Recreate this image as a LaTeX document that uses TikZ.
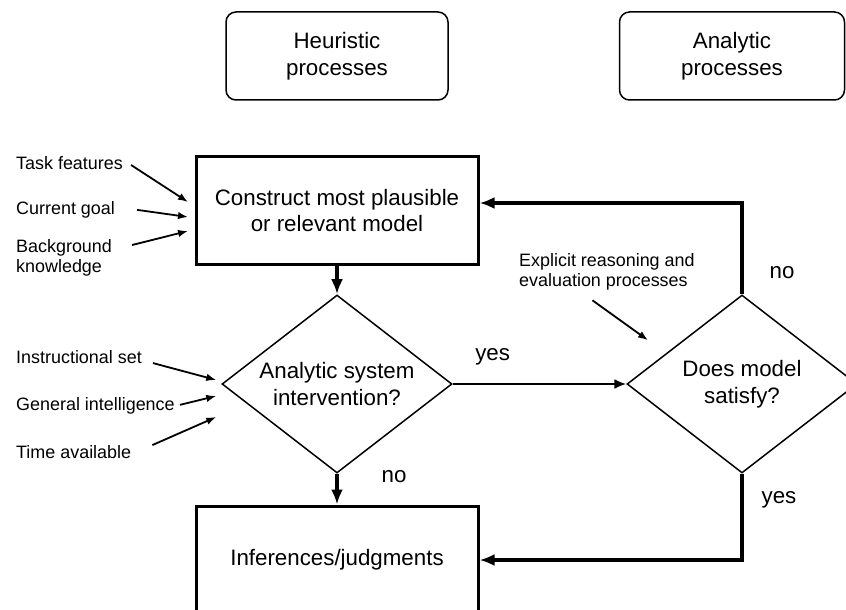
\documentclass[tikz,border=0pt]{standalone}
\usepackage{fontspec}
\setmainfont{Liberation Sans}
\usetikzlibrary{shapes.geometric, positioning, arrows.meta}
\tikzset{
    >={Latex[length=10bp,width=7.5bp]}, % arrow heads of the thin arrows
    big/.style={font=\fontsize{22.4}{27}\selectfont}, % text in the boxes
    small/.style={font=\fontsize{18}{20}\selectfont, inner sep=0pt, align=left}, % the input labels
    sidebox/.style={big, draw, rounded corners=10bp, line width=1.5bp, minimum width=222bp, minimum height=88bp, align=center}, % the two headings
    proc/.style={big, draw, line width=3bp, minimum width=282bp, minimum height=108bp, align=center}, % the two process boxes
    choice/.style={big, draw, diamond, shape aspect=1.3, line width=1.5bp, inner sep=0pt, minimum width=230bp, minimum height=178bp, align=center}, % the two tests
    answer/.style={big, inner sep=0pt}, % yes and no
    flow/.style={->, line width=3.3bp, >={Latex[length=15bp,width=12bp]}}, % the thick arrows
    inarrow/.style={->, line width=1.8bp}, % the arrows from the labels
}
\begin{document}
\begin{tikzpicture}[x=1bp, y=-1bp]
    \useasboundingbox (0,0) rectangle (846,610);
    \node[proc] (cons) at (337,210.5) {Construct most plausible\\or relevant model};
    \node[choice, on grid, below=173.5bp of cons] (sys) {Analytic system\\intervention?};
    \node[proc, on grid, below=176bp of sys] (inf) {Inferences/judgments};
    \node[choice, on grid, right=405bp of sys] (sat) {Does model\\satisfy?};
    \node[sidebox, on grid, above=154.5bp of cons] (heur) {Heuristic\\processes};
    \node[sidebox, minimum width=225bp, on grid, right=395bp of heur] (anal) {Analytic\\processes};

    \node[small, anchor=base west] (task) at (16,170) {Task features};
    \node[small, anchor=base west] (goal) at (16,215) {Current goal};
    \node[small, anchor=west] (know) at (16,258.3) {Background\\knowledge};
    \node[small, anchor=base west] (inst) at (16,363) {Instructional set};
    \node[small, anchor=base west] (intel) at (16,410) {General intelligence};
    \node[small, anchor=base west] (time) at (16,458) {Time available};
    \node[small, anchor=west] (expl) at (519,271.8) {Explicit reasoning and\\evaluation processes};

    \draw[flow] (cons) -- (sys);
    \draw[flow] (sys) -- node[answer, pos=0.1, right=43bp] {no} (inf);
    \draw[->, line width=2.2bp, >={Latex[length=12bp,width=10bp]}] (sys) -- node[answer, pos=0.23, above=18bp] {yes} (sat);
    \draw[flow] (sat.north) |- node[answer, pos=0.12, right=26bp] {no} ([shift={(0,-7.5)}]cons.east);
    \draw[flow] (sat.south) |- node[answer, pos=0.15, right=18bp] {yes} (inf.east);

    \draw[inarrow] ([shift={(8,1.4)}]task.east) -- ([shift={(-6.5,-8.5)}]cons.west);
    \draw[inarrow] ([shift={(22,-0.5)}]goal.east) -- ([shift={(-6.5,6.5)}]cons.west);
    \draw[inarrow] ([shift={(20,-13.3)}]know.east) -- ([shift={(-6.5,20.5)}]cons.west);
    \draw[inarrow] ([shift={(11,6.5)}]inst.east) -- ([shift={(-5,-4)}]sys.west);
    \draw[inarrow] ([shift={(5,-0.5)}]intel.east) -- ([shift={(-5,12)}]sys.west);
    \draw[inarrow] ([shift={(21,-6.5)}]time.east) -- ([shift={(-5,33)}]sys.west);
    \draw[inarrow] ([shift={(-14.5,10)}]expl.south) -- ([shift={(-94,46)}]sat.north);
\end{tikzpicture}
\end{document}
